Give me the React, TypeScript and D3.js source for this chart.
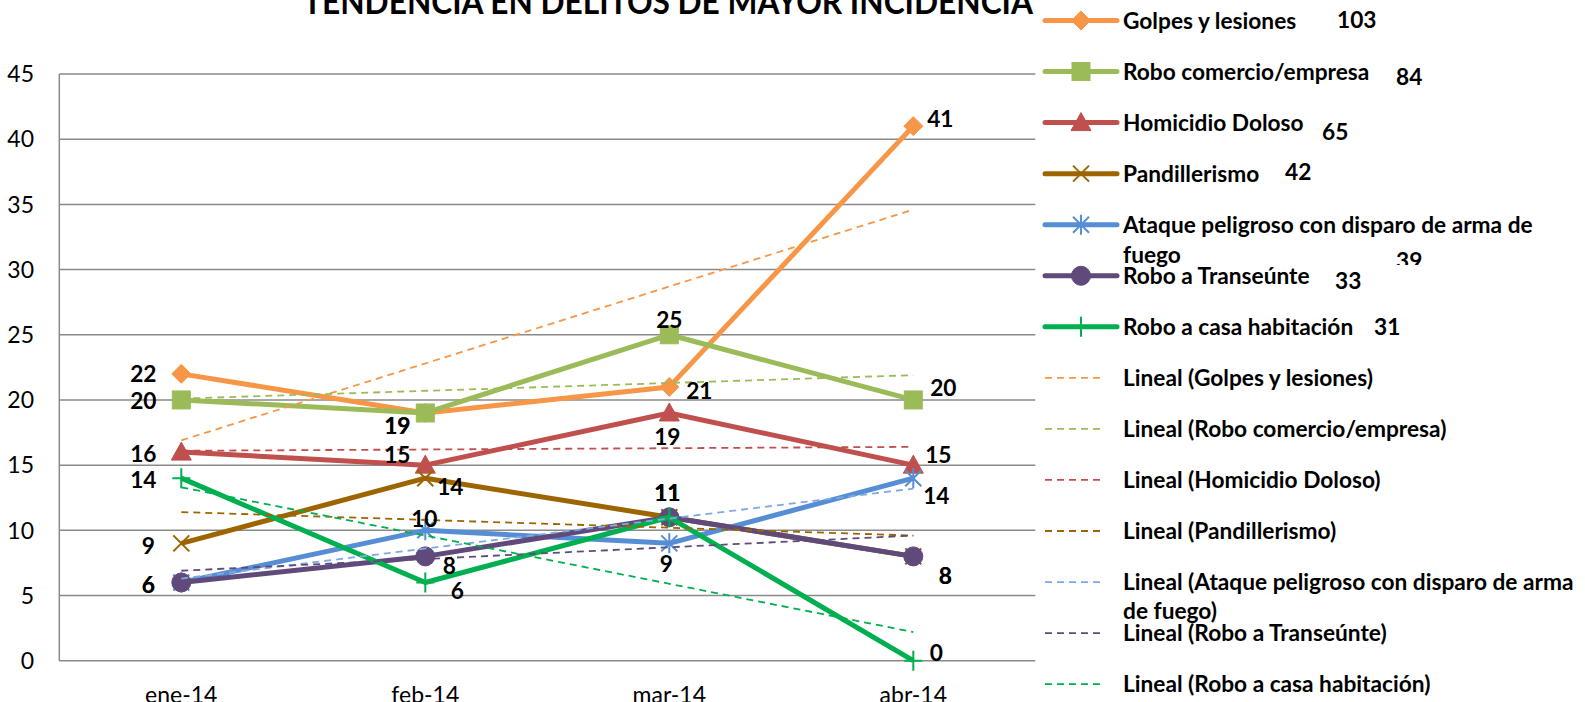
import React from 'react';
import * as d3 from 'd3';

// ---------- DATA ----------
const categories = ['ene-14', 'feb-14', 'mar-14', 'abr-14'];
const seriesNames = [
  'Golpes y lesiones',
  'Robo comercio/empresa',
  'Homicidio Doloso',
  'Pandillerismo',
  'Ataque peligroso con disparo de arma de fuego',
  'Robo a Transeúnte',
  'Robo a casa habitación',
];
const golpesYLesiones = [22, 19, 21, 41];
const roboComercioEmpresa = [20, 19, 25, 20];
const homicidioDoloso = [16, 15, 19, 15];
const pandillerismo = [9, 14, 11, 8];
const ataquePeligroso = [6, 10, 9, 14];
const roboTranseunte = [6, 8, 11, 8];
const roboCasaHabitacion = [14, 6, 11, 0];
const totals = [103, 84, 65, 42, 39, 33, 31];
const yTicks = [0, 5, 10, 15, 20, 25, 30, 35, 40, 45];
const title = 'TENDENCIA EN DELITOS DE MAYOR INCIDENCIA';

const seriesValues = [
  golpesYLesiones,
  roboComercioEmpresa,
  homicidioDoloso,
  pandillerismo,
  ataquePeligroso,
  roboTranseunte,
  roboCasaHabitacion,
];

// ---------- STYLE ----------
const colors = ['#F79646', '#9BBB59', '#C0504D', '#9C6500', '#558ED5', '#604A7B', '#00B050'];
const trendColors = ['#F79646', '#9BBB59', '#C0504D', '#9C6500', '#7FA9E0', '#604A7B', '#00B050'];
const markers = ['diamond', 'square', 'triangle', 'x', 'star', 'circle', 'plus'];
// data label center offsets [dx, dy] from each point
const labelOffsets = [
  [[-38, 0], [-28, 13], [30, 4], [27, -7]],
  [[-38, 1], [-28, 13], [0, -15], [30, -12.5]],
  [[-38, 2], [-28, -10], [-2, 24], [25, -10]],
  [[-33, 2], [25, 9], [-2, -24], [32, 19]],
  [[-33, 2], [-1, -12], [-3, 20], [23, 18]],
  [[-33, 2], [24, 9], [-2, -24], [32, 19]],
  [[-38, 2], [32, 8], [-2, -24], [23, -8]],
];
const legendWrap: Record<number, string[]> = {
  4: ['Ataque peligroso con disparo de arma de', 'fuego'],
};
const trendWrap: Record<number, string[]> = {
  4: ['Lineal (Ataque peligroso con disparo de arma', 'de fuego)'],
};
const totalPos = [
  [1337, 28],
  [1396, 84.6],
  [1322, 140.2],
  [1285, 179.6],
  [1396, 268.5],
  [1335, 288.8],
  [1374, 335.3],
];

const W = 1585;
const H = 702;
const FONT = 'Lato, "Open Sans", sans-serif';
const FS = 22.7;
const plotLeft = 59.3;
const plotRight = 1035.3;
const plotTop = 74;
const plotBottom = 660.7;

function markerEl(type: string, cx: number, cy: number, color: string, key: string) {
  const r = 9.5;
  switch (type) {
    case 'diamond':
      return (
        <path key={key} d={`M${cx},${cy - r}L${cx + r},${cy}L${cx},${cy + r}L${cx - r},${cy}Z`} fill={color} stroke={color} strokeWidth={1} />
      );
    case 'square':
      return <rect key={key} x={cx - 9} y={cy - 9} width={18} height={18} fill={color} stroke={color} strokeWidth={1} />;
    case 'triangle':
      return (
        <path key={key} d={`M${cx},${cy - 10}L${cx + 10},${cy + 8}L${cx - 10},${cy + 8}Z`} fill={color} stroke={color} strokeWidth={1} />
      );
    case 'circle':
      return <circle key={key} cx={cx} cy={cy} r={9.5} fill={color} stroke={color} strokeWidth={1} />;
    case 'x':
      return (
        <path key={key} d={`M${cx - 8},${cy - 8}L${cx + 8},${cy + 8}M${cx - 8},${cy + 8}L${cx + 8},${cy - 8}`} stroke={color} strokeWidth={2} fill="none" />
      );
    case 'star':
      return (
        <path key={key} d={`M${cx - 8},${cy - 8}L${cx + 8},${cy + 8}M${cx - 8},${cy + 8}L${cx + 8},${cy - 8}M${cx},${cy - 10}L${cx},${cy + 10}`} stroke={color} strokeWidth={2} fill="none" />
      );
    case 'plus':
      return (
        <path key={key} d={`M${cx - 9},${cy}L${cx + 9},${cy}M${cx},${cy - 10}L${cx},${cy + 10}`} stroke={color} strokeWidth={2} fill="none" />
      );
    default:
      return null;
  }
}

function linearFit(vals: number[]) {
  const xs = vals.map((_, i) => i + 1);
  const mx = d3.mean(xs) as number;
  const my = d3.mean(vals) as number;
  let num = 0;
  let den = 0;
  xs.forEach((xv, i) => {
    num += (xv - mx) * (vals[i] - my);
    den += (xv - mx) * (xv - mx);
  });
  const b = num / den;
  const a = my - b * mx;
  return (xv: number) => a + b * xv;
}

export default function App() {
  const x = d3.scaleBand<string>().domain(categories).range([plotLeft, plotRight]);
  const y = d3.scaleLinear().domain([0, 45]).range([plotBottom, plotTop]);
  const cx = (c: string) => (x(c) as number) + x.bandwidth() / 2;
  const line = d3
    .line<number>()
    .x((_, i) => cx(categories[i]))
    .y((d) => y(d));

  const legendY = (i: number) => 20.5 + 51.05 * i;

  return (
    <svg
      width={W}
      height={H}
      style={{ position: 'absolute', left: 0, top: 0, display: 'block', background: '#fff' }}
      fontFamily={FONT}
    >
      <defs>
        <clipPath id="clip39">
          <rect x={1380} y={240} width={80} height={25} />
        </clipPath>
      </defs>
      {/* title */}
      <text x={303} y={13.5} fontSize={34} fontWeight={700} textLength={730} lengthAdjust="spacingAndGlyphs" fill="#000">
        {title}
      </text>

      {/* gridlines */}
      {yTicks.map((t) => (
        <line key={t} x1={plotLeft} x2={plotRight} y1={y(t)} y2={y(t)} stroke="#8a8a8a" strokeWidth={1.5} />
      ))}
      <line x1={plotLeft} x2={plotLeft} y1={plotTop} y2={plotBottom} stroke="#8a8a8a" strokeWidth={1.5} />

      {/* y tick labels */}
      {yTicks.map((t) => (
        <text key={t} x={34} y={y(t) + 8.2} fontSize={23} textAnchor="end" fill="#000">
          {t}
        </text>
      ))}
      {/* x labels */}
      {categories.map((c) => (
        <text key={c} x={cx(c)} y={702.5} fontSize={23} textAnchor="middle" fill="#000">
          {c}
        </text>
      ))}

      {/* series */}
      {seriesValues.map((vals, si) => (
        <g key={si}>
          <path d={line(vals) as string} fill="none" stroke={colors[si]} strokeWidth={5} strokeLinejoin="round" />
          {vals.map((v, i) => markerEl(markers[si], cx(categories[i]), y(v), colors[si], `m${si}-${i}`))}
        </g>
      ))}

      {/* trendlines */}
      {seriesValues.map((vals, si) => {
        const f = linearFit(vals);
        const x0 = cx(categories[0]);
        const x1 = cx(categories[categories.length - 1]);
        return (
          <line
            key={`t${si}`}
            x1={x0}
            x2={x1}
            y1={y(f(1))}
            y2={y(f(vals.length))}
            stroke={trendColors[si]}
            strokeWidth={1.8}
            strokeDasharray="7 5"
          />
        );
      })}

      {/* data labels */}
      {seriesValues.map((vals, si) =>
        vals.map((v, i) => (
          <text
            key={`l${si}-${i}`}
            x={cx(categories[i]) + labelOffsets[si][i][0]}
            y={y(v) + labelOffsets[si][i][1] + 8.2}
            fontSize={FS}
            fontWeight={700}
            textAnchor="middle"
            fill="#000"
          >
            {v}
          </text>
        ))
      )}

      {/* legend: series */}
      {seriesNames.map((name, si) => {
        const ly = legendY(si);
        const lines = legendWrap[si] || [name];
        return (
          <g key={`lg${si}`}>
            <line x1={1045} x2={1117} y1={ly} y2={ly} stroke={colors[si]} strokeWidth={5} strokeLinecap="round" />
            {markerEl(markers[si], 1081, ly, colors[si], `lm${si}`)}
            {lines.map((t, k) => (
              <text key={k} x={1123} y={ly + 8.2 + k * 30} fontSize={FS} fontWeight={700} fill="#000">
                {t}
              </text>
            ))}
          </g>
        );
      })}
      {/* legend: trendlines */}
      {seriesNames.map((name, si) => {
        const ly = legendY(si + 7);
        const lines = trendWrap[si] || [`Lineal (${name})`];
        return (
          <g key={`lt${si}`}>
            <line x1={1045} x2={1105} y1={ly} y2={ly} stroke={trendColors[si]} strokeWidth={1.8} strokeDasharray="7 5" />
            {lines.map((t, k) => (
              <text key={k} x={1123} y={ly + 8.2 + k * 29} fontSize={FS} fontWeight={700} fill="#000">
                {t}
              </text>
            ))}
          </g>
        );
      })}

      {/* totals */}
      {totals.map((t, i) => (
        <text
          key={`tot${i}`}
          x={totalPos[i][0]}
          y={totalPos[i][1]}
          fontSize={FS}
          fontWeight={700}
          fill="#000"
          clipPath={i === 4 ? 'url(#clip39)' : undefined}
        >
          {t}
        </text>
      ))}
    </svg>
  );
}
